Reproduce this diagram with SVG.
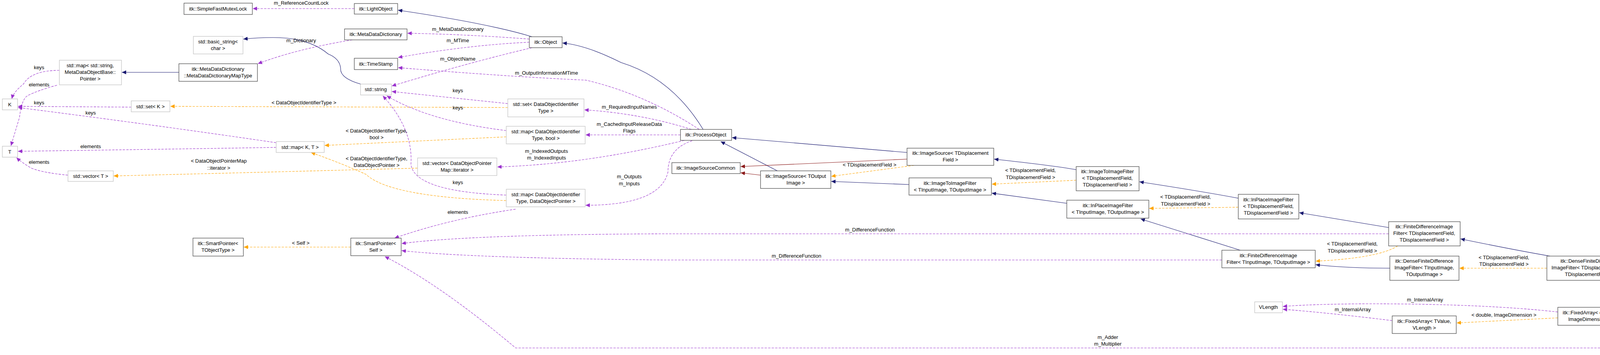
<svg xmlns="http://www.w3.org/2000/svg" width="4931" height="908" viewBox="0 0 4931 908">
<style>
text{font-family:"Liberation Sans",Arial,sans-serif;font-size:13px;fill:#000;text-anchor:middle}
.n rect{fill:#fff;stroke:#404040;stroke-width:1.2}
.g rect{fill:#fff;stroke:#bfbfbf;stroke-width:1.2}
.h rect{fill:#bfbfbf;stroke:#404040;stroke-width:1.2}
.e path{fill:none;stroke-width:1.1}
.inh{stroke:#191970}
.red{stroke:#8b1a1a}
.tpl{stroke:#ffa500;stroke-dasharray:6,3}
.use{stroke:#9a32cd;stroke-dasharray:6,3}
</style>
<defs>
<marker id="aN" markerUnits="userSpaceOnUse" markerWidth="12" markerHeight="10" refX="11" refY="5" orient="auto"><path d="M0,0 L11,5 L0,10 z" fill="#191970"/></marker>
<marker id="aR" markerUnits="userSpaceOnUse" markerWidth="12" markerHeight="10" refX="11" refY="5" orient="auto"><path d="M0,0 L11,5 L0,10 z" fill="#8b1a1a"/></marker>
<marker id="aO" markerUnits="userSpaceOnUse" markerWidth="12" markerHeight="10" refX="11" refY="5" orient="auto"><path d="M0,0 L11,5 L0,10 z" fill="#ffa500"/></marker>
<marker id="aP" markerUnits="userSpaceOnUse" markerWidth="12" markerHeight="10" refX="11" refY="5" orient="auto"><path d="M0,0 L11,5 L0,10 z" fill="#9a32cd"/></marker>
</defs>
<g id="edges" class="e">
<path class="inh" marker-end="url(#aN)" d="M1362,94 Q1250,60 1019,26"/>
<path class="inh" marker-end="url(#aN)" d="M1800,331 Q1720,200 1590,160 Q1500,115 1440,110"/>
<path class="inh" marker-end="url(#aN)" d="M2322,390 L1874,352"/>
<path class="inh" marker-end="url(#aN)" d="M1990,437 L1845,362"/>
<path class="red" marker-end="url(#aR)" d="M1947,448 L1896,442"/>
<path class="red" marker-end="url(#aR)" d="M2322,407 L1896,426"/>
<path class="inh" marker-end="url(#aN)" d="M2327,472 L2128,464"/>
<path class="inh" marker-end="url(#aN)" d="M2755,434 Q2700,424 2545,407"/>
<path class="inh" marker-end="url(#aN)" d="M2731,520 L2539,494"/>
<path class="inh" marker-end="url(#aN)" d="M3170,507 Q3080,490 2917,465"/>
<path class="inh" marker-end="url(#aN)" d="M3175,640 L2920,560"/>
<path class="inh" marker-end="url(#aN)" d="M3555,582 L3326,544"/>
<path class="inh" marker-end="url(#aN)" d="M3558,686 Q3450,686 3368,677"/>
<path class="inh" marker-end="url(#aN)" d="M3968,655 Q3880,640 3739,611"/>
<path class="inh" marker-end="url(#aN)" d="M4437,778 L4179,713"/>
<path class="inh" marker-end="url(#aN)" d="M4717,842 L4668,834"/>
<path class="inh" marker-end="url(#aN)" d="M458,185 L312,185"/>
<path class="inh" marker-end="url(#aN)" d="M923,215 Q870,200 872,175 Q870,150 840,138 Q790,96 700,96 Q660,96 623,100"/>
<path class="tpl" marker-end="url(#aO)" d="M1300,275 L436,272"/>
<path class="tpl" marker-end="url(#aO)" d="M1296,350 L831,372"/>
<path class="tpl" marker-end="url(#aO)" d="M1296,513 Q1000,505 937,446 Q880,420 796,390"/>
<path class="tpl" marker-end="url(#aO)" d="M1069,430 Q700,440 291,450"/>
<path class="tpl" marker-end="url(#aO)" d="M898,632 L624,632"/>
<path class="tpl" marker-end="url(#aO)" d="M2340,423 L2128,451"/>
<path class="tpl" marker-end="url(#aO)" d="M2755,461 L2539,471"/>
<path class="tpl" marker-end="url(#aO)" d="M3170,530 L2942,533"/>
<path class="tpl" marker-end="url(#aO)" d="M3578,629 Q3530,660 3368,668"/>
<path class="tpl" marker-end="url(#aO)" d="M3960,686 L3736,686"/>
<path class="tpl" marker-end="url(#aO)" d="M3988,813 L3729,826"/>
<path class="use" marker-end="url(#aP)" d="M907,22 L647,22"/>
<path class="use" marker-end="url(#aP)" d="M1355,100 Q1200,88 1043,85"/>
<path class="use" marker-end="url(#aP)" d="M1355,108 Q1200,115 1019,147"/>
<path class="use" marker-end="url(#aP)" d="M1362,122 Q1200,160 1003,220"/>
<path class="use" marker-end="url(#aP)" d="M1790,331 Q1650,240 1500,205 Q1300,196 1019,173"/>
<path class="use" marker-end="url(#aP)" d="M902,102 Q760,125 660,163"/>
<path class="use" marker-end="url(#aP)" d="M1300,265 L1003,234"/>
<path class="use" marker-end="url(#aP)" d="M1296,334 Q1100,310 990,245"/>
<path class="use" marker-end="url(#aP)" d="M1296,499 Q1060,490 1052,420 Q1058,330 980,245"/>
<path class="use" marker-end="url(#aP)" d="M1320,535 Q1150,560 1010,609"/>
<path class="use" marker-end="url(#aP)" d="M1770,331 Q1640,290 1496,281"/>
<path class="use" marker-end="url(#aP)" d="M1742,345 L1499,345"/>
<path class="use" marker-end="url(#aP)" d="M1752,359 Q1500,420 1273,427"/>
<path class="use" marker-end="url(#aP)" d="M1772,360 Q1710,380 1710,440 Q1690,525 1499,525"/>
<path class="use" marker-end="url(#aP)" d="M3555,598 L1700,598 Q1200,600 1028,623"/>
<path class="use" marker-end="url(#aP)" d="M3128,665 L1700,665 Q1200,660 1028,641"/>
<path class="use" marker-end="url(#aP)" d="M4717,878 Q4600,890 4400,890 L1320,890 Q1130,730 985,656"/>
<path class="use" marker-end="url(#aP)" d="M4429,809 L4151,809"/>
<path class="use" marker-end="url(#aP)" d="M3988,798 Q3800,777 3500,777 Q3350,778 3284,784"/>
<path class="use" marker-end="url(#aP)" d="M3564,820 Q3400,800 3284,791"/>
<path class="use" marker-end="url(#aP)" d="M152,180 Q80,180 60,215 Q35,235 30,253"/>
<path class="use" marker-end="url(#aP)" d="M146,218 Q100,230 70,245 Q55,255 50,300 L28,373"/>
<path class="use" marker-end="url(#aP)" d="M336,274 L46,272"/>
<path class="use" marker-end="url(#aP)" d="M707,365 Q400,320 46,275"/>
<path class="use" marker-end="url(#aP)" d="M707,377 Q400,382 46,387"/>
<path class="use" marker-end="url(#aP)" d="M174,448 Q110,442 80,430 Q55,415 42,403"/>
</g>
<g id="labels">
<text x="771" y="12">m_ReferenceCountLock</text>
<text x="771" y="108">m_Dictionary</text>
<text x="1172" y="79">m_MetaDataDictionary</text>
<text x="1172" y="108">m_MTime</text>
<text x="1172" y="155">m_ObjectName</text>
<text x="1172" y="236">keys</text>
<text x="1172" y="280">keys</text>
<text x="1172" y="471">keys</text>
<text x="1172" y="547">elements</text>
<text x="778" y="267">&lt; DataObjectIdentifierType &gt;</text>
<text x="964" y="339">&lt; DataObjectIdentifierType,</text>
<text x="964" y="356">bool &gt;</text>
<text x="964" y="410">&lt; DataObjectIdentifierType,</text>
<text x="964" y="427">DataObjectPointer &gt;</text>
<text x="560" y="416">&lt; DataObjectPointerMap</text>
<text x="560" y="434">::iterator &gt;</text>
<text x="770" y="626">&lt; Self &gt;</text>
<text x="100" y="177">keys</text>
<text x="100" y="221">elements</text>
<text x="100" y="267">keys</text>
<text x="232" y="293">keys</text>
<text x="232" y="379">elements</text>
<text x="100" y="419">elements</text>
<text x="1399" y="191">m_OutputInformationMTime</text>
<text x="1611" y="278">m_RequiredInputNames</text>
<text x="1611" y="322">m_CachedInputReleaseData</text>
<text x="1611" y="339">Flags</text>
<text x="1399" y="391">m_IndexedOutputs</text>
<text x="1399" y="408">m_IndexedInputs</text>
<text x="1611" y="456">m_Outputs</text>
<text x="1611" y="474">m_Inputs</text>
<text x="2226" y="426">&lt; TDisplacementField &gt;</text>
<text x="2227" y="592">m_DifferenceFunction</text>
<text x="2039" y="659">m_DifferenceFunction</text>
<text x="2638" y="440">&lt; TDisplacementField,</text>
<text x="2638" y="458">TDisplacementField &gt;</text>
<text x="3035" y="508">&lt; TDisplacementField,</text>
<text x="3035" y="526">TDisplacementField &gt;</text>
<text x="2836" y="867">m_Adder</text>
<text x="2836" y="884">m_Multiplier</text>
<text x="3462" y="628">&lt; TDisplacementField,</text>
<text x="3462" y="646">TDisplacementField &gt;</text>
<text x="3850" y="663">&lt; TDisplacementField,</text>
<text x="3850" y="680">TDisplacementField &gt;</text>
<text x="3850" y="810">&lt; double, ImageDimension &gt;</text>
<text x="3648" y="771">m_InternalArray</text>
<text x="3463" y="796">m_InternalArray</text>
<text x="4304" y="787">m_StandardDeviations</text>
<text x="4304" y="804">m_UpdateFieldStandardDeviations</text>
</g>
<g id="n1" class="n"><rect x="471" y="8" width="175" height="29"/><text x="558" y="27">itk::SimpleFastMutexLock</text></g>
<g id="n2" class="n"><rect x="907" y="9" width="111" height="27"/><text x="962" y="27">itk::LightObject</text></g>
<g id="n3" class="g"><rect x="495" y="93" width="127" height="45"/><text x="558" y="111">std::basic_string&lt;</text><text x="558" y="128">char &gt;</text></g>
<g id="n4" class="n"><rect x="882" y="74" width="160" height="28"/><text x="962" y="92">itk::MetaDataDictionary</text></g>
<g id="n5" class="n"><rect x="458" y="163" width="201" height="45"/><text x="558" y="181">itk::MetaDataDictionary</text><text x="558" y="198">::MetaDataDictionaryMapType</text></g>
<g id="n6" class="n"><rect x="907" y="149" width="111" height="29"/><text x="962" y="168">itk::TimeStamp</text></g>
<g id="n7" class="n"><rect x="1355" y="94" width="84" height="28"/><text x="1397" y="112">itk::Object</text></g>
<g id="n8" class="g"><rect x="923" y="215" width="79" height="28"/><text x="962" y="233">std::string</text></g>
<g id="n9" class="g"><rect x="152" y="154" width="159" height="63"/><text x="231" y="172">std::map&lt; std::string,</text><text x="231" y="189">MetaDataObjectBase::</text><text x="231" y="206">Pointer &gt;</text></g>
<g id="n10" class="g"><rect x="6" y="253" width="39" height="28"/><text x="25" y="272">K</text></g>
<g id="n11" class="g"><rect x="6" y="374" width="39" height="28"/><text x="25" y="393">T</text></g>
<g id="n12" class="g"><rect x="336" y="258" width="99" height="28"/><text x="385" y="277">std::set&lt; K &gt;</text></g>
<g id="n13" class="g"><rect x="707" y="362" width="123" height="28"/><text x="768" y="381">std::map&lt; K, T &gt;</text></g>
<g id="n14" class="g"><rect x="174" y="437" width="116" height="27"/><text x="232" y="455">std::vector&lt; T &gt;</text></g>
<g id="n15" class="g"><rect x="1300" y="253" width="195" height="46"/><text x="1397" y="271">std::set&lt; DataObjectIdentifier</text><text x="1397" y="288">Type &gt;</text></g>
<g id="n16" class="g"><rect x="1296" y="323" width="202" height="45"/><text x="1397" y="341">std::map&lt; DataObjectIdentifier</text><text x="1397" y="358">Type, bool &gt;</text></g>
<g id="n17" class="g"><rect x="1296" y="484" width="202" height="45"/><text x="1397" y="502">std::map&lt; DataObjectIdentifier</text><text x="1397" y="519">Type, DataObjectPointer &gt;</text></g>
<g id="n18" class="g"><rect x="1069" y="404" width="203" height="45"/><text x="1170" y="422">std::vector&lt; DataObjectPointer</text><text x="1170" y="439">Map::iterator &gt;</text></g>
<g id="n19" class="n"><rect x="494" y="609" width="129" height="46"/><text x="558" y="627">itk::SmartPointer&lt;</text><text x="558" y="644">TObjectType &gt;</text></g>
<g id="n20" class="n"><rect x="898" y="609" width="129" height="45"/><text x="962" y="627">itk::SmartPointer&lt;</text><text x="962" y="644">Self &gt;</text></g>
<g id="n21" class="n"><rect x="1742" y="331" width="131" height="28"/><text x="1807" y="349">itk::ProcessObject</text></g>
<g id="n22" class="n"><rect x="1720" y="416" width="175" height="28"/><text x="1807" y="434">itk::ImageSourceCommon</text></g>
<g id="n23" class="n"><rect x="2322" y="379" width="222" height="44"/><text x="2433" y="396">itk::ImageSource&lt; TDisplacement</text><text x="2433" y="413">Field &gt;</text></g>
<g id="n24" class="n"><rect x="1947" y="437" width="180" height="45"/><text x="2037" y="455">itk::ImageSource&lt; TOutput</text><text x="2037" y="472">Image &gt;</text></g>
<g id="n25" class="n"><rect x="2327" y="455" width="211" height="44"/><text x="2432" y="473">itk::ImageToImageFilter</text><text x="2432" y="490">&lt; TInputImage, TOutputImage &gt;</text></g>
<g id="n26" class="n"><rect x="2755" y="426" width="161" height="62"/><text x="2835" y="443">itk::ImageToImageFilter</text><text x="2835" y="460">&lt; TDisplacementField,</text><text x="2835" y="477">TDisplacementField &gt;</text></g>
<g id="n27" class="n"><rect x="2731" y="512" width="210" height="46"/><text x="2836" y="530">itk::InPlaceImageFilter</text><text x="2836" y="547">&lt; TInputImage, TOutputImage &gt;</text></g>
<g id="n28" class="n"><rect x="3170" y="497" width="155" height="63"/><text x="3247" y="515">itk::InPlaceImageFilter</text><text x="3247" y="532">&lt; TDisplacementField,</text><text x="3247" y="549">TDisplacementField &gt;</text></g>
<g id="n29" class="n"><rect x="3555" y="567" width="183" height="62"/><text x="3646" y="584">itk::FiniteDifferenceImage</text><text x="3646" y="601">Filter&lt; TDisplacementField,</text><text x="3646" y="618">TDisplacementField &gt;</text></g>
<g id="n30" class="n"><rect x="3128" y="640" width="239" height="45"/><text x="3247" y="658">itk::FiniteDifferenceImage</text><text x="3247" y="675">Filter&lt; TInputImage, TOutputImage &gt;</text></g>
<g id="n31" class="n"><rect x="3558" y="655" width="177" height="62"/><text x="3646" y="672">itk::DenseFiniteDifference</text><text x="3646" y="689">ImageFilter&lt; TInputImage,</text><text x="3646" y="706">TOutputImage &gt;</text></g>
<g id="n32" class="n"><rect x="3960" y="655" width="218" height="62"/><text x="4069" y="672">itk::DenseFiniteDifference</text><text x="4069" y="689">ImageFilter&lt; TDisplacementField,</text><text x="4069" y="706">TDisplacementField &gt;</text></g>
<g id="n33" class="g"><rect x="3212" y="772" width="71" height="28"/><text x="3247" y="790">VLength</text></g>
<g id="n34" class="n"><rect x="3564" y="808" width="164" height="45"/><text x="3646" y="826">itk::FixedArray&lt; TValue,</text><text x="3646" y="843">VLength &gt;</text></g>
<g id="n35" class="n"><rect x="3988" y="786" width="162" height="46"/><text x="4069" y="804">itk::FixedArray&lt; double,</text><text x="4069" y="821">ImageDimension &gt;</text></g>
<g id="n36" class="n"><rect x="4429" y="778" width="238" height="62"/><text x="4548" y="795">itk::PDEDeformableRegistration</text><text x="4548" y="812">Filter&lt; TFixedImage, TMovingImage,</text><text x="4548" y="829">TDisplacementField &gt;</text></g>
<g id="n37" class="h"><rect x="4717" y="822" width="208" height="80"/><text x="4821" y="840">itk::FastSymmetricForces</text><text x="4821" y="857">DemonsRegistrationFilter</text><text x="4821" y="874">&lt; TFixedImage, TMovingImage,</text><text x="4821" y="891">TDisplacementField &gt;</text></g>
</svg>
